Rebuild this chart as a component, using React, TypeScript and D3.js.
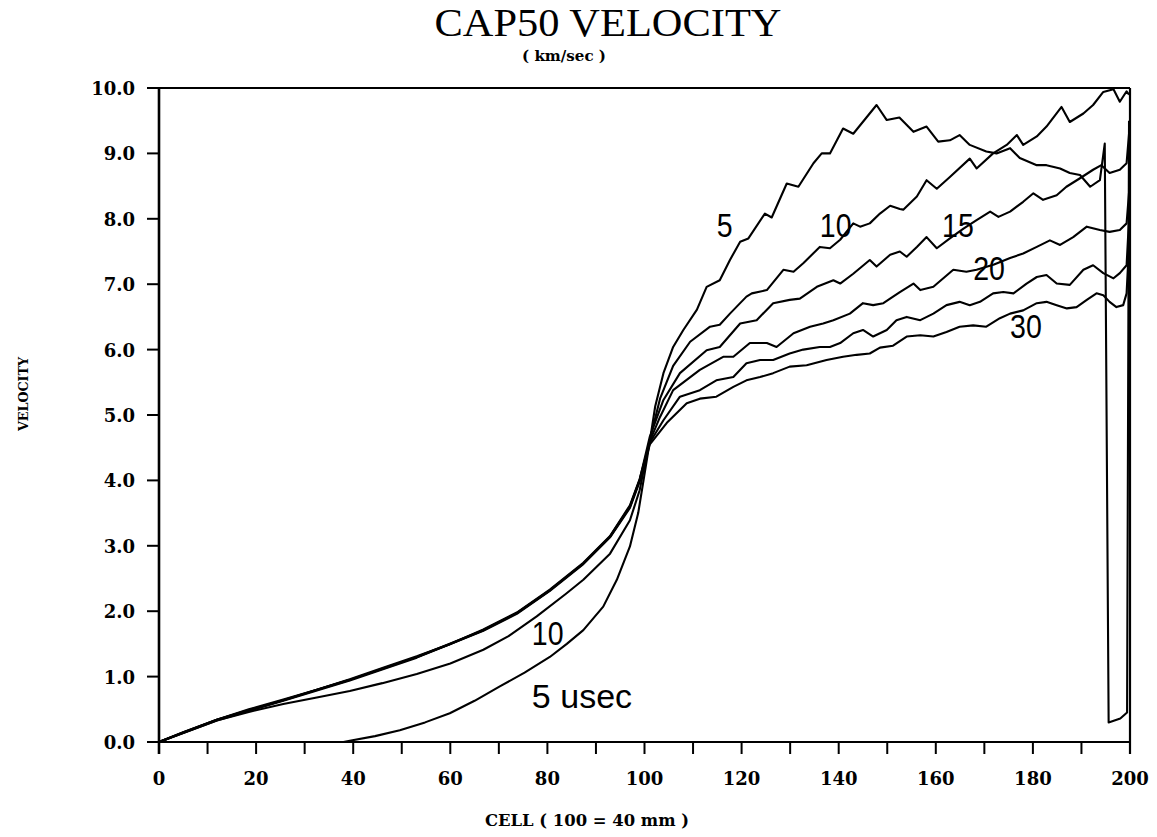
import React from 'react';
import * as d3 from 'd3';

type Pt = [number, number];

// Velocity profiles (cell, km/sec) at successive times (usec)
const t5: Pt[] = [[0,0],[38,0],[39.3,0.02],[44.5,0.09],[49.6,0.18],[54.8,0.3],[59.9,0.44],[65,0.63],[70.2,0.85],[75.3,1.06],[80.5,1.3],[84,1.5],[87.4,1.71],[91.5,2.07],[94.3,2.48],[97,2.99],[98.7,3.5],[99.8,4.0],[101.1,4.6],[102.2,5.13],[103.9,5.64],[105.9,6.04],[108,6.3],[110.8,6.61],[112.8,6.96],[115.5,7.06],[117.6,7.37],[119.7,7.65],[121.4,7.7],[124.8,8.08],[126.2,8.02],[129.3,8.54],[131.7,8.49],[134.8,8.85],[136.5,9.0],[138.2,9.0],[140.9,9.38],[143,9.3],[147.8,9.74],[149.9,9.51],[152.5,9.55],[155.4,9.33],[158.1,9.41],[160.5,9.18],[162.9,9.2],[164.9,9.28],[167,9.13],[170.4,9.03],[172.5,9.0],[175.3,9.08],[177.3,8.93],[180.8,8.82],[182.8,8.82],[185.6,8.77],[187.6,8.7],[189.7,8.67],[191.8,8.49],[193.8,8.59],[194.8,9.15],[195.6,0.3],[198,0.36],[199.4,0.45],[199.8,9.5]];

const t10: Pt[] = [[0,0],[11.9,0.33],[18.5,0.46],[25.6,0.58],[32.5,0.68],[39.3,0.78],[46,0.9],[53.1,1.04],[60,1.2],[66.8,1.41],[72,1.62],[77.8,1.92],[83.9,2.27],[87.4,2.48],[92.9,2.88],[97,3.39],[99,3.85],[101.1,4.62],[103.2,5.25],[105.9,5.75],[109.4,6.12],[113.5,6.35],[115.5,6.38],[117.6,6.55],[121,6.81],[122.1,6.86],[125.2,6.91],[128.6,7.22],[130.7,7.19],[132.7,7.32],[136.1,7.57],[138.2,7.55],[140.3,7.68],[143,7.93],[144.4,7.88],[146.4,7.93],[148.5,8.08],[150.6,8.2],[152.6,8.15],[153.3,8.14],[156.1,8.34],[158.1,8.59],[160.2,8.46],[162.9,8.64],[167,8.92],[168.4,8.77],[171.8,9.0],[174.6,9.13],[176.7,9.28],[178,9.13],[180.8,9.26],[182.8,9.41],[185.9,9.71],[187.6,9.48],[190.4,9.61],[192.4,9.74],[194.5,9.94],[196.6,9.98],[197.9,9.79],[199.3,9.95],[199.8,9.9]];

const t15: Pt[] = [[0,0],[5,0.15],[11.9,0.34],[18.5,0.49],[25.6,0.64],[32.5,0.8],[39.3,0.95],[46,1.12],[53.1,1.3],[60,1.5],[66.8,1.71],[73.7,1.97],[80.5,2.32],[87.4,2.73],[92.9,3.14],[97,3.6],[99,4.01],[101.1,4.67],[103.9,5.23],[107.3,5.64],[112.8,5.99],[115.5,6.04],[119.7,6.4],[123.1,6.45],[126.5,6.71],[129.9,6.76],[132,6.78],[135.5,6.96],[138.9,7.06],[140.3,7.01],[143,7.16],[146.4,7.37],[147.8,7.27],[150.6,7.45],[152.6,7.5],[154,7.42],[156.1,7.57],[158.1,7.72],[160.2,7.55],[162.9,7.7],[165.7,7.85],[168.4,7.98],[171.2,8.11],[172.9,8.03],[175.3,8.11],[178,8.26],[180.1,8.39],[182.1,8.29],[184.9,8.36],[186.9,8.49],[189.7,8.62],[192.4,8.75],[194.1,8.82],[195.8,8.7],[197.9,8.75],[199.3,8.85],[199.8,9.3]];

const t20: Pt[] = [[0,0],[5,0.15],[11.9,0.34],[18.5,0.5],[25.6,0.65],[32.5,0.8],[39.3,0.96],[46,1.13],[53.1,1.31],[60,1.5],[66.8,1.72],[73.7,1.98],[80.5,2.33],[87.4,2.74],[92.9,3.15],[97,3.62],[99,4.02],[101.1,4.6],[103.2,4.97],[105.9,5.38],[111.4,5.69],[116.2,5.89],[118.3,5.89],[121.7,6.1],[125.2,6.1],[127.2,6.04],[130.7,6.25],[134.1,6.35],[136.8,6.4],[138.9,6.45],[142.3,6.55],[145,6.71],[147.1,6.68],[149.2,6.71],[151.2,6.81],[152.6,6.88],[155.4,7.01],[156.8,6.91],[159.5,6.96],[163.6,7.22],[166.3,7.19],[168.4,7.22],[172,7.3],[175.3,7.4],[178,7.47],[180.8,7.57],[183.5,7.67],[185.6,7.6],[188.3,7.72],[191.1,7.88],[193.8,7.83],[195.8,7.8],[197.9,7.83],[199.3,7.93],[199.8,8.4]];

const t25: Pt[] = [[0,0],[11.9,0.34],[25.6,0.64],[39.3,0.95],[53.1,1.3],[66.8,1.71],[73.7,1.97],[80.5,2.32],[87.4,2.73],[92.9,3.14],[97,3.6],[99,4.0],[101.1,4.58],[103.9,4.92],[107.3,5.28],[111.4,5.38],[114.8,5.53],[118.3,5.58],[121,5.79],[123.8,5.84],[126.5,5.84],[129.9,5.94],[132.7,6.0],[136.1,6.04],[138.2,6.04],[140.3,6.1],[143,6.25],[145,6.3],[147.1,6.2],[149.9,6.3],[151.9,6.45],[154,6.5],[156.8,6.45],[159.5,6.55],[162.2,6.68],[164.9,6.73],[167,6.68],[169.1,6.73],[171.8,6.86],[173.9,6.88],[176,6.86],[178.7,7.01],[180.8,7.11],[182.8,7.14],[184.9,7.01],[187.6,6.99],[190.4,7.22],[192.4,7.29],[194.5,7.17],[196.6,7.09],[197.9,7.17],[199.3,7.29],[199.8,8.0]];

const t30: Pt[] = [[0,0],[11.9,0.33],[25.6,0.63],[39.3,0.94],[53.1,1.29],[66.8,1.7],[73.7,1.96],[80.5,2.31],[87.4,2.72],[92.9,3.13],[97,3.58],[99,3.98],[101.1,4.55],[104.6,4.88],[108.7,5.18],[111.4,5.25],[114.8,5.28],[118.3,5.43],[121,5.53],[123.8,5.58],[126.5,5.64],[129.9,5.74],[133.4,5.76],[137.5,5.84],[140.9,5.89],[143.7,5.92],[146.4,5.94],[148.5,6.03],[151.2,6.06],[154,6.2],[156.8,6.22],[159.5,6.2],[162.2,6.27],[164.9,6.35],[167.7,6.37],[170.4,6.35],[173.2,6.48],[175.3,6.55],[178,6.6],[180.8,6.71],[182.8,6.73],[184.9,6.68],[187,6.63],[189,6.65],[191.1,6.76],[193.1,6.86],[194.5,6.83],[195.8,6.73],[197.2,6.65],[198.6,6.68],[199.3,6.86],[199.8,7.6]];

const series: Pt[][] = [t5, t10, t15, t20, t25, t30];

// Axis ticks
const xTickValues = [0,10,20,30,40,50,60,70,80,90,100,110,120,130,140,150,160,170,180,190,200];
const xLabelValues = [0,20,40,60,80,100,120,140,160,180,200];
const yTickValues = [0,1,2,3,4,5,6,7,8,9,10];

// Curve annotations (text, cell, velocity at baseline-left)
const noteText = ['5', '10', '15', '20', '30', '10', '5 usec'];
const noteCell = [114.9, 136.1, 161.3, 167.7, 175.3, 76.8, 76.8];
const noteVel = [7.72, 7.72, 7.72, 7.06, 6.18, 1.48, 0.52];

const titleText = 'CAP50 VELOCITY';
const subtitleText = '( km/sec )';
const xTitleText = 'CELL ( 100 = 40 mm )';
const yTitleText = 'VELOCITY';

export default function App() {
  const W = 1157, H = 837;
  const x = d3.scaleLinear().domain([0, 200]).range([159, 1130]);
  const y = d3.scaleLinear().domain([0, 10]).range([742, 88]);
  const line = d3.line<Pt>().x(d => x(d[0])).y(d => y(d[1]));
  const fmt = d3.format('.1f');
  const tickFont = "'DejaVu Serif', serif";
  const noteFont = "'Liberation Sans', Arial, sans-serif";

  return (
    <svg width={W} height={H} style={{ position: 'absolute', left: 0, top: 0, background: '#fff' }}>
      <rect x={0} y={0} width={W} height={H} fill="#fff" />
      <text x={608} y={36} textAnchor="middle" fontFamily="'Liberation Serif', serif" fontSize={40}
        textLength={347} lengthAdjust="spacingAndGlyphs" fill="#000">{titleText}</text>
      <text x={564} y={61} textAnchor="middle" fontFamily="'DejaVu Serif', serif" fontWeight="bold" fontSize={15}
        textLength={84} lengthAdjust="spacingAndGlyphs" fill="#000">{subtitleText}</text>

      {/* frame */}
      <line x1={x(0)} x2={x(200)} y1={y(10)} y2={y(10)} stroke="#000" strokeWidth={2} />
      <line x1={x(200)} x2={x(200)} y1={y(10)} y2={y(0) + 12} stroke="#000" strokeWidth={2.2} />
      <line x1={x(0)} x2={x(200)} y1={y(0)} y2={y(0)} stroke="#000" strokeWidth={2.2} />
      <line x1={x(0)} x2={x(0)} y1={y(10) - 1} y2={y(0) + 12} stroke="#000" strokeWidth={2.6} />

      {/* y ticks */}
      {yTickValues.map(v => (
        <g key={'y' + v}>
          <line x1={x(0) - 12} x2={x(0)} y1={y(v)} y2={y(v)} stroke="#000" strokeWidth={2} />
          <text x={x(0) - 24} y={y(v) + 7} textAnchor="end" fontFamily={tickFont} fontWeight="bold" fontSize={18} fill="#000">{fmt(v)}</text>
        </g>
      ))}
      {/* x ticks */}
      {xTickValues.map(v => (
        <line key={'xt' + v} x1={x(v)} x2={x(v)} y1={y(0)} y2={y(0) + 12} stroke="#000" strokeWidth={2} />
      ))}
      {xLabelValues.map(v => (
        <text key={'xl' + v} x={x(v)} y={785} textAnchor="middle" fontFamily={tickFont} fontWeight="bold" fontSize={18} fill="#000">{String(v)}</text>
      ))}

      <text x={587} y={826} textAnchor="middle" fontFamily="'DejaVu Serif', serif" fontWeight="bold" fontSize={16}
        textLength={204} lengthAdjust="spacingAndGlyphs" fill="#000">{xTitleText}</text>
      <text transform={`translate(28,394) rotate(-90)`} textAnchor="middle" fontFamily="'DejaVu Serif', serif" fontWeight="bold" fontSize={13}
        textLength={74} lengthAdjust="spacingAndGlyphs" fill="#000">{yTitleText}</text>

      {/* curves */}
      {series.map((s, i) => (
        <path key={'s' + i} d={line(s) || ''} fill="none" stroke="#000" strokeWidth={2.1} strokeLinejoin="round" />
      ))}

      {/* annotations */}
      {noteText.map((t, i) => (
        <text key={'n' + i} transform={`translate(${x(noteCell[i])},${y(noteVel[i])}) scale(${t.length > 2 ? 1 : 0.84},1)`}
          fontFamily={noteFont} fontSize={34} fill="#000">{t}</text>
      ))}
    </svg>
  );
}
